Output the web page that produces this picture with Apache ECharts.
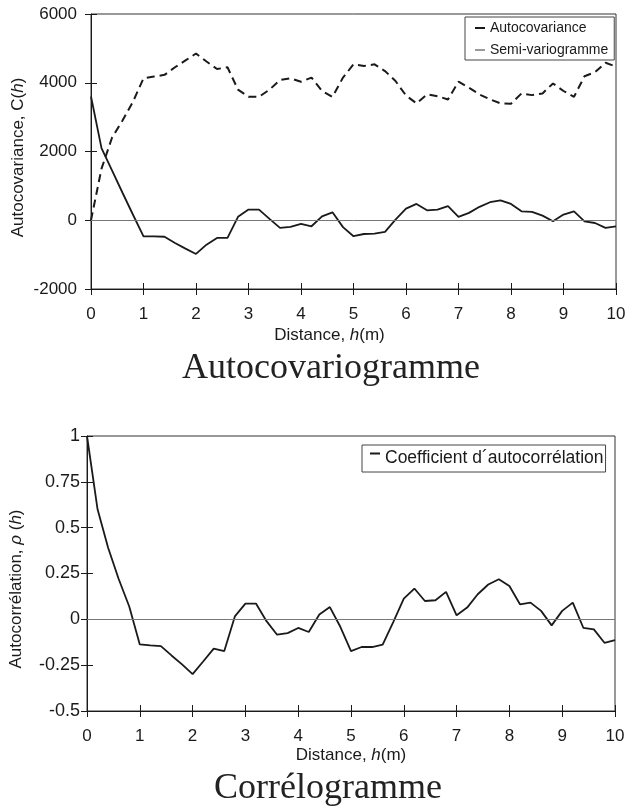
<!DOCTYPE html>
<html>
<head>
<meta charset="utf-8">
<script src="https://cdn.jsdelivr.net/npm/echarts@6/dist/echarts.min.js"></script>
<style>
  html, body { margin: 0; padding: 0; background: #fff; }
  #main { width: 627px; height: 806px; }
</style>
</head>
<body>
<div id="main"></div>
<script>
// distance h (m), one point every 0.2 m
const distance = [
  0, 0.2, 0.4, 0.6, 0.8, 1, 1.2, 1.4, 1.6, 1.8,
  2, 2.2, 2.4, 2.6, 2.8, 3, 3.2, 3.4, 3.6, 3.8,
  4, 4.2, 4.4, 4.6, 4.8, 5, 5.2, 5.4, 5.6, 5.8,
  6, 6.2, 6.4, 6.6, 6.8, 7, 7.2, 7.4, 7.6, 7.8,
  8, 8.2, 8.4, 8.6, 8.8, 9, 9.2, 9.4, 9.6, 9.8, 10
];

const autocovariance = [
  3600, 2100, 1450, 800, 160, -470, -470, -480, -660, -825,
  -980, -710, -515, -515, 100, 310, 310, 40, -220, -195,
  -105, -175, 115, 230, -200, -465, -400, -390, -340, 20,
  340, 475, 290, 310, 410, 100, 215, 390, 525, 580,
  475, 260, 245, 135, -30, 165, 260, -30, -80, -220, -175
];

const semiVariogramme = [
  0, 1500, 2400, 2900, 3450, 4130, 4180, 4230, 4450, 4650,
  4850, 4620, 4400, 4450, 3800, 3590, 3590, 3800, 4080, 4130,
  4030, 4150, 3760, 3590, 4150, 4535, 4490, 4535, 4340, 4050,
  3630, 3400, 3660, 3610, 3515, 4030, 3855, 3660, 3515, 3400,
  3390, 3690, 3640, 3690, 3980, 3760, 3590, 4190, 4310, 4580, 4470
];

const autocorrelation = [
  1, 0.6, 0.39, 0.22, 0.07, -0.137, -0.142, -0.146, -0.197, -0.246,
  -0.299, -0.23, -0.16, -0.173, 0.016, 0.086, 0.086, -0.01, -0.084, -0.075,
  -0.047, -0.069, 0.026, 0.067, -0.042, -0.173, -0.151, -0.151, -0.138, -0.015,
  0.113, 0.168, 0.1, 0.104, 0.15, 0.022, 0.064, 0.137, 0.19, 0.219,
  0.182, 0.082, 0.091, 0.046, -0.033, 0.046, 0.091, -0.046, -0.055, -0.128, -0.113
];

const ink = '#1a1a1a';
const sans = "'Liberation Sans', Arial, sans-serif";
const serif = "'Liberation Serif', 'Times New Roman', serif";

const myChart = echarts.init(document.querySelector('#main'), null, { renderer: 'canvas' });

const pairs = (ys) => distance.map((d, i) => [d, ys[i]]);
const plain = (v) => String(v);

const italic = { fontStyle: 'italic', fontSize: 17, fontFamily: sans, color: ink };

const zeroLine = {
  silent: true,
  symbol: 'none',
  label: { show: false },
  lineStyle: { color: '#777', width: 1, type: 'solid' },
  data: [{ yAxis: 0 }]
};

// main axis (ticks outside) + twin axis (ticks inside) so ticks cross the line
function xAxes(gridIndex, nameGap, namePadding) {
  return [{
    gridIndex: gridIndex,
    type: 'value',
    position: 'bottom',
    min: 0,
    max: 10,
    interval: 1,
    axisLine: { show: true, onZero: false, lineStyle: { color: ink, width: 1 } },
    axisTick: { show: true, length: 6, lineStyle: { color: ink } },
    axisLabel: { show: true, margin: 17, fontSize: 17, color: ink, fontFamily: sans, formatter: plain },
    splitLine: { show: false },
    name: 'Distance, {i|h}(m)',
    nameLocation: 'middle',
    nameGap: nameGap,
    nameMoveOverlap: false,
    nameTextStyle: {
      fontSize: 17, color: ink, fontFamily: sans,
      padding: namePadding,
      rich: { i: italic }
    }
  }, {
    gridIndex: gridIndex,
    type: 'value',
    position: 'bottom',
    min: 0,
    max: 10,
    interval: 1,
    axisLine: { show: false, onZero: false },
    axisTick: { show: true, inside: true, length: 6, lineStyle: { color: ink } },
    axisLabel: { show: false },
    splitLine: { show: false }
  }];
}

function yAxes(gridIndex, min, max, interval, name, nameGap, namePadding, labelSize, labelMargin) {
  return [{
    gridIndex: gridIndex,
    type: 'value',
    position: 'left',
    min: min,
    max: max,
    interval: interval,
    axisLine: { show: true, onZero: false, lineStyle: { color: ink, width: 1 } },
    axisTick: { show: true, length: 6, lineStyle: { color: ink } },
    axisLabel: { show: true, margin: labelMargin, fontSize: labelSize, color: ink, fontFamily: sans, formatter: plain },
    splitLine: { show: false },
    name: name,
    nameLocation: 'middle',
    nameGap: nameGap,
    nameMoveOverlap: false,
    nameTextStyle: {
      fontSize: 17, color: ink, fontFamily: sans,
      padding: namePadding,
      rich: { i: italic }
    }
  }, {
    gridIndex: gridIndex,
    type: 'value',
    position: 'left',
    min: min,
    max: max,
    interval: interval,
    axisLine: { show: false, onZero: false },
    axisTick: { show: true, inside: true, length: 6, lineStyle: { color: ink } },
    axisLabel: { show: false },
    splitLine: { show: false }
  }];
}

const option = {
  animation: false,
  backgroundColor: '#fff',
  title: [{
    text: 'Autocovariogramme',
    left: 331,
    top: 351,
    padding: 0,
    textAlign: 'center',
    textStyle: { fontFamily: serif, fontSize: 36, fontWeight: 'normal', color: '#222' }
  }, {
    text: 'Corrélogramme',
    left: 328,
    top: 771,
    padding: 0,
    textAlign: 'center',
    textStyle: { fontFamily: serif, fontSize: 36, fontWeight: 'normal', color: '#222' }
  }],
  legend: [{
    orient: 'vertical',
    left: 465,
    top: 17,
    padding: [4, 6, 3, 10],
    itemWidth: 10,
    itemHeight: 2,
    itemGap: 8,
    borderColor: '#444',
    borderWidth: 1,
    selectedMode: false,
    itemStyle: { borderWidth: 0 },
    textStyle: { fontSize: 14, color: ink, fontFamily: sans },
    data: [
      { name: 'Autocovariance', icon: 'rect' },
      { name: 'Semi-variogramme', icon: 'rect', itemStyle: { color: '#999', borderWidth: 0 } }
    ]
  }, {
    orient: 'vertical',
    left: 362,
    top: 445,
    padding: [4, 2, 5, 8],
    itemWidth: 10,
    itemHeight: 14,
    borderColor: '#444',
    borderWidth: 1,
    selectedMode: false,
    itemStyle: { borderWidth: 0 },
    textStyle: { fontSize: 17.5, color: ink, fontFamily: sans },
    data: [
      { name: 'Coefficient d´autocorrélation', icon: 'path://M0 0H10V2H0Z M0 11H0.01V11.01H0Z' }
    ]
  }],
  grid: [{
    left: 91, top: 14, width: 525, height: 275,
    show: true, borderColor: '#333', borderWidth: 1,
    outerBoundsMode: 'none'
  }, {
    left: 87, top: 436, width: 528, height: 275,
    show: true, borderColor: '#333', borderWidth: 1,
    outerBoundsMode: 'none'
  }],
  xAxis: [].concat(
    xAxes(0, 38, [0, 48, 0, 0]),
    xAxes(1, 36, [0, 0, 0, 0])
  ),
  yAxis: [].concat(
    yAxes(0, -2000, 6000, 2000, 'Autocovariance, C({i|h})', 64, [0, 12, 0, 0], 17, 14),
    yAxes(1, -0.5, 1, 0.25, 'Autocorrélation, {i|ρ} ({i|h})', 62, [0, 31, 0, 0], 18, 7)
  ),
  series: [{
    name: 'Autocovariance',
    type: 'line',
    xAxisIndex: 0,
    yAxisIndex: 0,
    data: pairs(autocovariance),
    symbol: 'none',
    itemStyle: { color: ink },
    lineStyle: { color: ink, width: 1.8 },
    markLine: zeroLine
  }, {
    name: 'Semi-variogramme',
    type: 'line',
    xAxisIndex: 0,
    yAxisIndex: 0,
    data: pairs(semiVariogramme),
    symbol: 'none',
    itemStyle: { color: ink },
    lineStyle: { color: ink, width: 2, type: [8, 5] }
  }, {
    name: 'Coefficient d´autocorrélation',
    type: 'line',
    xAxisIndex: 2,
    yAxisIndex: 2,
    data: pairs(autocorrelation),
    symbol: 'none',
    itemStyle: { color: ink },
    lineStyle: { color: ink, width: 1.8 },
    markLine: zeroLine
  }]
};

myChart.setOption(option);
</script>
</body>
</html>
